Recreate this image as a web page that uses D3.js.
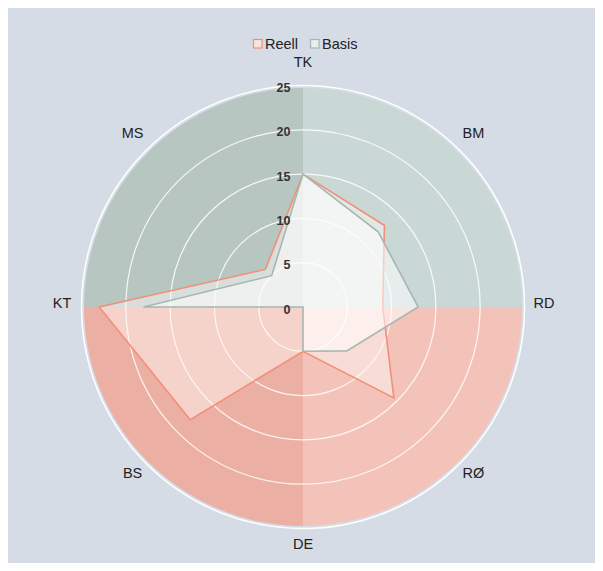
<!DOCTYPE html>
<html>
<head>
<meta charset="utf-8">
<script src="https://cdn.jsdelivr.net/npm/d3@7/dist/d3.min.js"></script>
<style>
  html, body { margin: 0; padding: 0; background: #ffffff; }
  svg { display: block; }
  text { font-family: "Liberation Sans", Arial, Helvetica, sans-serif; }
</style>
</head>
<body>
<div id="chart"></div>
<script>
// ---- data ----
const categories = ["TK", "BM", "RD", "RØ", "DE", "BS", "KT", "MS"];
const reell = [15, 13, 9, 14.5, 5, 18, 23, 6];
const basis = [15, 12, 13, 7, 5, 0, 18, 5];
const radialTicks = [0, 5, 10, 15, 20, 25];
const seriesNames = ["Reell", "Basis"];

// ---- layout ----
const width = 603, height = 571;
const margin = 8;
const cx = 303, cy = 307;
const R = 221.5;

const svg = d3.select("#chart").append("svg")
  .attr("width", width).attr("height", height);

svg.append("rect").attr("width", width).attr("height", height).attr("fill", "#ffffff");
svg.append("rect")
  .attr("x", margin).attr("y", margin)
  .attr("width", width - 2 * margin).attr("height", height - 2 * margin)
  .attr("fill", "#d6dce6");

const r = d3.scaleLinear().domain([0, 25]).range([0, R]);
const angle = d3.scaleLinear().domain([0, categories.length]).range([0, 2 * Math.PI]);

const g = svg.append("g").attr("transform", `translate(${cx},${cy})`);

// background quadrant sectors
const quadColors = ["#c9d8d4", "#f3c3b9", "#ecafa3", "#b8c6c2"];
const arc = d3.arc().innerRadius(0).outerRadius(R - 2.5);
const quads = d3.range(4).map(i => ({
  startAngle: angle(i * 2),
  endAngle: angle(i * 2 + 2),
  color: quadColors[i]
}));
g.selectAll("path.quad").data(quads).join("path")
  .attr("class", "quad")
  .attr("d", arc)
  .attr("fill", d => d.color);

// grid rings
g.selectAll("circle.ring").data(radialTicks.filter(t => t > 0)).join("circle")
  .attr("class", "ring")
  .attr("r", d => r(d))
  .attr("fill", "none")
  .attr("stroke", "#ffffff")
  .attr("stroke-opacity", d => d === 25 ? 0.95 : 0.85)
  .attr("stroke-width", d => d === 25 ? 1.6 : 1.2);

// series polygons
const line = d3.lineRadial()
  .angle((d, i) => angle(i))
  .radius(d => r(d))
  .curve(d3.curveLinearClosed);

g.append("path").datum(reell)
  .attr("d", line)
  .attr("fill", "rgb(255,250,249)")
  .attr("fill-opacity", 0.46)
  .attr("stroke", "#f28f79")
  .attr("stroke-width", 1.6)
  .attr("stroke-linejoin", "miter");

g.append("path").datum(basis)
  .attr("d", line)
  .attr("fill", "#ffffff")
  .attr("fill-opacity", 0.55)
  .attr("stroke", "#a7b7b0")
  .attr("stroke-width", 1.6)
  .attr("stroke-linejoin", "miter");

// radial tick labels
g.selectAll("text.rtick").data(radialTicks).join("text")
  .attr("class", "rtick")
  .attr("x", -12.5)
  .attr("y", d => -r(d) + 2.5)
  .attr("text-anchor", "end")
  .attr("dominant-baseline", "central")
  .attr("font-size", 12.5)
  .attr("font-weight", "bold")
  .attr("fill", "#333333")
  .text(d => d);

// category labels
const labelR = 241;
g.selectAll("text.cat").data(categories).join("text")
  .attr("class", "cat")
  .attr("x", (d, i) => labelR * Math.sin(angle(i)))
  .attr("y", (d, i) => -labelR * Math.cos(angle(i)) - 4)
  .attr("text-anchor", "middle")
  .attr("dominant-baseline", "central")
  .attr("font-size", 14.5)
  .attr("fill", "#222")
  .text(d => d);

// legend
const legendStyles = [
  { stroke: "#f28f79", fill: "#fbe4de" },
  { stroke: "#a7b7b0", fill: "#e8eeec" }
];
const legend = svg.append("g").attr("transform", "translate(253,39)");
let lx = 0;
seriesNames.forEach((name, i) => {
  const item = legend.append("g").attr("transform", `translate(${lx},0)`);
  item.append("rect")
    .attr("x", 0.5).attr("y", 0.5)
    .attr("width", 8.5).attr("height", 8.5)
    .attr("fill", legendStyles[i].fill)
    .attr("stroke", legendStyles[i].stroke)
    .attr("stroke-width", 1.2);
  const t = item.append("text")
    .attr("x", 12).attr("y", 5)
    .attr("dominant-baseline", "central")
    .attr("font-size", 14.5)
    .attr("fill", "#222")
    .text(name);
  lx += 12 + t.node().getComputedTextLength() + 12;
});
</script>
</body>
</html>
